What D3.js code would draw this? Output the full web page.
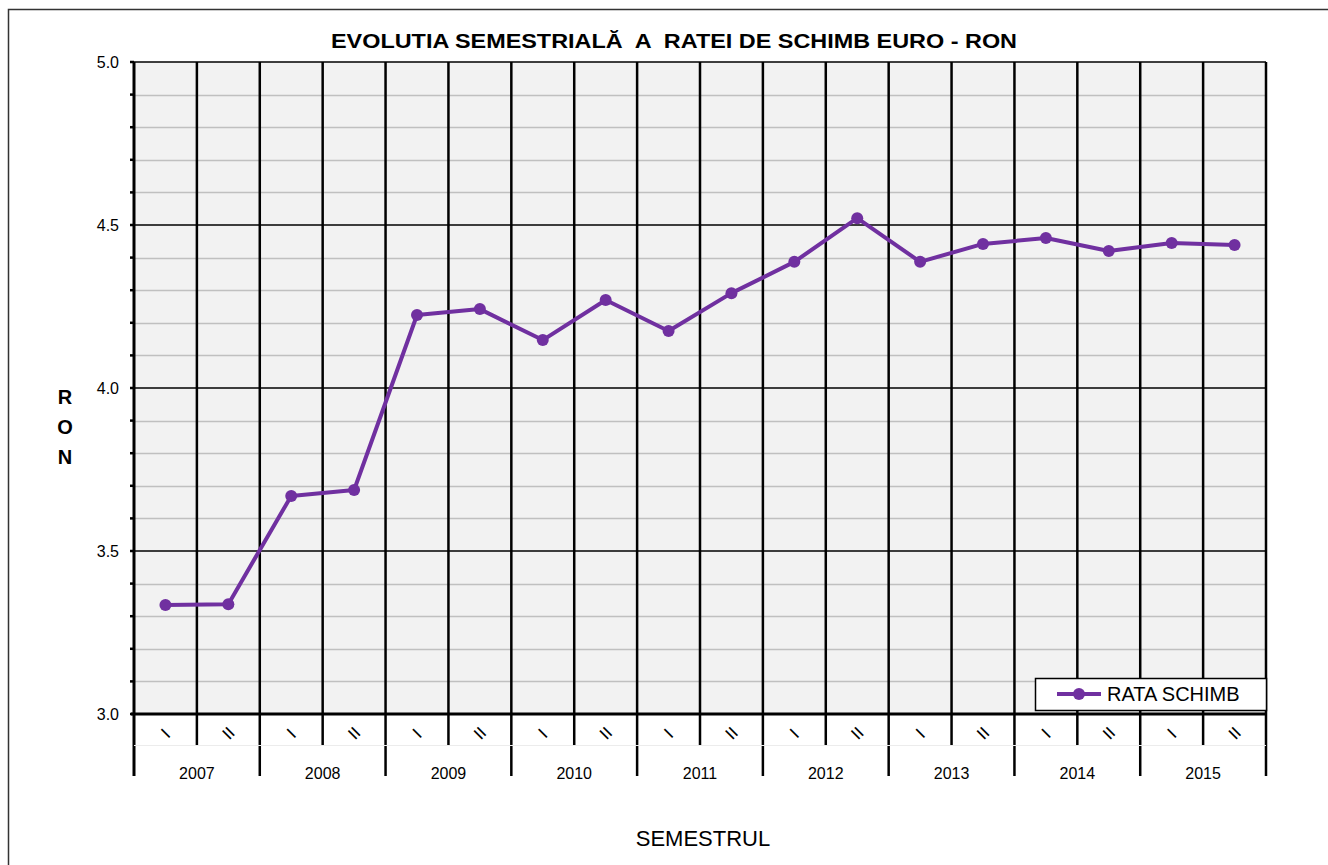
<!DOCTYPE html>
<html>
<head>
<meta charset="utf-8">
<script src="https://cdn.jsdelivr.net/npm/d3@7"></script>
<style>
  body { margin: 0; background: #fff; }
  text { font-family: "Liberation Sans", Arial, sans-serif; }
</style>
</head>
<body>
<div id="container"></div>
<script>
let w = 1328;
let h = 865;

// data
let years = ["2007", "2008", "2009", "2010", "2011", "2012", "2013", "2014", "2015"];
let semesters = ["I", "II"];
let rates = [3.334, 3.337, 3.669, 3.687, 4.224, 4.242, 4.147, 4.270, 4.175,
             4.291, 4.387, 4.521, 4.387, 4.442, 4.460, 4.420, 4.445, 4.439];
let yTicks = [3.0, 3.5, 4.0, 4.5, 5.0];

let cats = [];
years.forEach(function(y){ semesters.forEach(function(s){ cats.push(y + "-" + s); }); });

let padL = 134, padR = 1266, padT = 62, padB = 714;
let purple = "#7030a0";

let svg = d3.select("#container").append("svg")
    .attr("width", w)
    .attr("height", h);

// outer frame
svg.append("rect")
    .attr("x", 8.5).attr("y", 9.5)
    .attr("width", w).attr("height", h)
    .attr("fill", "none")
    .attr("stroke", "#333")
    .attr("stroke-width", 1.5);

let xScale = d3.scaleBand().domain(cats).range([padL, padR]);
let yearScale = d3.scaleBand().domain(years).range([padL, padR]);
let yScale = d3.scaleLinear().domain([3, 5]).range([padB, padT]);

// plot background
svg.append("rect")
    .attr("x", padL).attr("y", padT)
    .attr("width", padR - padL).attr("height", padB - padT)
    .attr("fill", "#f2f2f2");

// minor grid
let minor = d3.range(3.1, 5.0, 0.1).filter(function(v){ return Math.abs(v * 2 - Math.round(v * 2)) > 0.01; });
svg.selectAll(".minor").data(minor).enter()
  .append("line")
    .attr("x1", padL).attr("x2", padR)
    .attr("y1", function(d){ return Math.round(yScale(d)) + 0.5; })
    .attr("y2", function(d){ return Math.round(yScale(d)) + 0.5; })
    .attr("stroke", "#c0c0c0")
    .attr("stroke-width", 1.5);

// major grid
svg.selectAll(".major").data(yTicks).enter()
  .append("line")
    .attr("x1", padL).attr("x2", padR)
    .attr("y1", function(d){ return yScale(d); })
    .attr("y2", function(d){ return yScale(d); })
    .attr("stroke", "#000")
    .attr("stroke-width", 1.5);

// vertical category lines (extend below axis)
let bounds = cats.map(function(c){ return xScale(c); }).concat([padR]);
svg.selectAll(".vline").data(bounds).enter()
  .append("line")
    .attr("x1", function(d){ return d; })
    .attr("x2", function(d){ return d; })
    .attr("y1", padT)
    .attr("y2", function(d, i){ return i % 2 == 0 ? 776 : 745; })
    .attr("stroke", "#000")
    .attr("stroke-width", function(d, i){ return (i == 0) ? 3 : 2.5; });

// faint separator between semester and year labels
svg.append("line")
    .attr("x1", padL).attr("x2", padR)
    .attr("y1", 745.5).attr("y2", 745.5)
    .attr("stroke", "#ececec");

// bottom axis
svg.append("line")
    .attr("x1", padL - 3).attr("x2", padR)
    .attr("y1", padB).attr("y2", padB)
    .attr("stroke", "#000")
    .attr("stroke-width", 3);

// left ticks
let tickVals = d3.range(0, 21).map(function(i){ return 3 + i * 0.1; });
svg.selectAll(".ytick").data(tickVals).enter()
  .append("line")
    .attr("x1", padL - 4).attr("x2", padL)
    .attr("y1", function(d){ return yScale(d); })
    .attr("y2", function(d){ return yScale(d); })
    .attr("stroke", "#000")
    .attr("stroke-width", 2.5);

// y labels
svg.selectAll(".ylab").data(yTicks).enter()
  .append("text")
    .attr("x", 119)
    .attr("y", function(d){ return yScale(d) + 6; })
    .attr("text-anchor", "end")
    .attr("font-size", 16)
    .text(function(d){ return d3.format(".1f")(d); });

// semester labels (rotated)
svg.selectAll(".sem").data(cats).enter()
  .append("text")
    .attr("transform", function(d){
      return "translate(" + (xScale(d) + xScale.bandwidth() / 2) + ",733) rotate(-45)";
    })
    .attr("text-anchor", "middle")
    .attr("dy", "0.35em")
    .attr("font-size", 17)
    .text(function(d){ return d.split("-")[1]; });

// year labels
svg.selectAll(".year").data(years).enter()
  .append("text")
    .attr("x", function(d){ return yearScale(d) + yearScale.bandwidth() / 2; })
    .attr("y", 779)
    .attr("text-anchor", "middle")
    .attr("font-size", 16)
    .text(function(d){ return d; });

// line
let lineMaker = d3.line()
    .x(function(d, i){ return xScale(cats[i]) + xScale.bandwidth() / 2; })
    .y(function(d){ return yScale(d); });

svg.append("path")
    .attr("d", lineMaker(rates))
    .attr("fill", "none")
    .attr("stroke", purple)
    .attr("stroke-width", 4)
    .attr("stroke-linejoin", "round");

svg.selectAll(".pt").data(rates).enter()
  .append("circle")
    .attr("cx", function(d, i){ return xScale(cats[i]) + xScale.bandwidth() / 2; })
    .attr("cy", function(d){ return yScale(d); })
    .attr("r", 6)
    .attr("fill", purple);

// title
svg.append("text")
    .attr("x", 674)
    .attr("y", 48)
    .attr("text-anchor", "middle")
    .attr("font-size", 21)
    .attr("font-weight", "bold")
    .attr("textLength", 686)
    .attr("lengthAdjust", "spacingAndGlyphs")
    .style("white-space", "pre")
    .text("EVOLUTIA SEMESTRIALĂ  A  RATEI DE SCHIMB EURO - RON");

// y axis title
svg.selectAll(".ron").data(["R", "O", "N"]).enter()
  .append("text")
    .attr("x", 65)
    .attr("y", function(d, i){ return 404 + i * 30; })
    .attr("text-anchor", "middle")
    .attr("font-size", 20)
    .attr("font-weight", "bold")
    .text(function(d){ return d; });

// x axis title
svg.append("text")
    .attr("x", 703)
    .attr("y", 846)
    .attr("text-anchor", "middle")
    .attr("font-size", 22)
    .text("SEMESTRUL");

// legend
let lg = svg.append("g").attr("transform", "translate(1035,678)");
lg.append("rect")
    .attr("x", 0.5).attr("y", 0.5)
    .attr("width", 231).attr("height", 32)
    .attr("fill", "#fff")
    .attr("stroke", "#000")
    .attr("stroke-width", 1.5);
lg.append("line")
    .attr("x1", 22).attr("x2", 66)
    .attr("y1", 16).attr("y2", 16)
    .attr("stroke", purple)
    .attr("stroke-width", 4);
lg.append("circle")
    .attr("cx", 44).attr("cy", 16).attr("r", 6)
    .attr("fill", purple);
lg.append("text")
    .attr("x", 72).attr("y", 23)
    .attr("font-size", 20)
    .text("RATA SCHIMB");
</script>
</body>
</html>
